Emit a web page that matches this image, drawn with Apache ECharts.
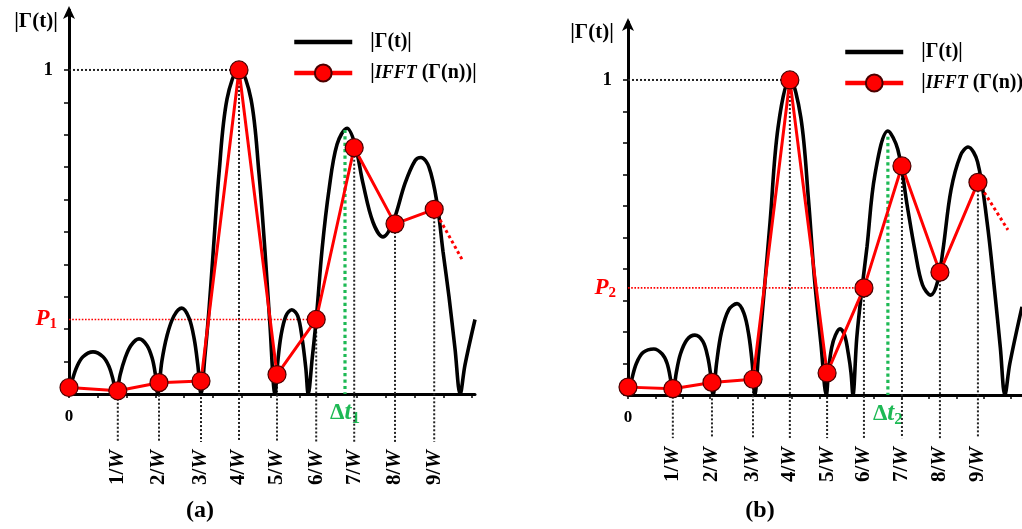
<!DOCTYPE html>
<html><head><meta charset="utf-8">
<script src="https://cdn.jsdelivr.net/npm/echarts@6/dist/echarts.min.js"></script>
<style>html,body{margin:0;padding:0;background:#fff}#c{width:1022px;height:529px}</style>
</head><body><div id="c"></div>
<script>
// ---------- data ----------
const wLabels = ['1/W','2/W','3/W','4/W','5/W','6/W','7/W','8/W','9/W'];
const yTickVals = [0,0.1,0.2,0.3,0.4,0.5,0.6,0.7,0.8,0.9,1];
const xMinorTicks = [0,0.72,1.44,2.16,2.88,3.6,4.32,5.04,5.76,6.48,7.2,7.92,8.64,9.36,10.08];

// panel (a)
const aTickX = [1.22,2.25,3.3,4.25,5.2,6.18,7.13,8.15,9.13];
const aIfft  = [0.02,0.01,0.035,0.04,1.0,0.06,0.23,0.76,0.525,0.57];
const aTail  = [[9.13,0.57],[9.85,0.41]];
const aDelta = [6.9,0.815];
const aCurveT = [0,0.1,0.2,0.35,0.6,0.85,1.0,1.1,1.18,
  1.28,1.4,1.55,1.75,1.95,2.08,2.16,2.22,
  2.32,2.45,2.62,2.82,3.0,3.13,3.22,3.3,
  3.4,3.5,3.6,3.75,3.95,4.25,4.55,4.75,4.9,5.02,5.15,
  5.22,5.3,5.42,5.57,5.72,5.83,5.92,5.98,
  6.08,6.18,6.33,6.5,6.7,6.95,7.15,7.35,7.6,7.85,8.1,8.4,8.65,8.8,9.0,9.2,9.35,9.5,9.65,9.78,9.9,10.15];
const aCurveV = [0,0.05,0.085,0.115,0.13,0.115,0.085,0.045,0,
  0.06,0.11,0.15,0.17,0.15,0.11,0.06,0,
  0.1,0.18,0.24,0.265,0.235,0.17,0.09,0,
  0.12,0.26,0.43,0.68,0.91,1.005,0.91,0.68,0.44,0.22,0,
  0.1,0.18,0.24,0.26,0.24,0.17,0.08,0,
  0.11,0.23,0.45,0.63,0.77,0.82,0.77,0.65,0.53,0.485,0.53,0.65,0.72,0.73,0.7,0.59,0.44,0.3,0.14,0,0.09,0.23];

// panel (b)
const bTickX = [1.18,2.21,3.29,4.26,5.24,6.21,7.21,8.21,9.21];
const bIfft  = [0.025,0.02,0.04,0.05,1.0,0.07,0.34,0.727,0.39,0.675];
const bTail  = [[9.21,0.675],[10.0,0.524]];
const bDelta = [6.84,0.82];
const bCurveT = [0,0.1,0.22,0.4,0.68,0.9,1.03,1.12,1.18,
  1.27,1.38,1.55,1.76,1.97,2.1,2.18,2.24,
  2.33,2.46,2.65,2.87,3.05,3.18,3.27,3.34,
  3.43,3.52,3.62,3.74,3.95,4.26,4.55,4.75,4.9,5.08,5.22,
  5.28,5.36,5.46,5.58,5.7,5.8,5.87,5.92,
  6.02,6.15,6.29,6.5,6.84,7.1,7.35,7.55,7.75,7.97,8.15,8.29,8.5,8.75,8.95,9.2,9.45,9.65,9.8,9.92,10.05,10.37];
const bCurveV = [0,0.05,0.1,0.135,0.146,0.13,0.1,0.05,0,
  0.07,0.13,0.175,0.19,0.17,0.12,0.06,0,
  0.1,0.2,0.27,0.29,0.26,0.19,0.1,0,
  0.12,0.24,0.38,0.55,0.85,1.005,0.88,0.62,0.38,0.16,0,
  0.08,0.15,0.19,0.21,0.19,0.13,0.07,0,
  0.18,0.33,0.47,0.7,0.838,0.78,0.6,0.46,0.35,0.317,0.36,0.46,0.65,0.76,0.787,0.74,0.55,0.33,0.15,0,0.1,0.28];

// ---------- layout / style ----------
const SERIF = "'Liberation Serif','DejaVu Serif',serif";
const RED = '#ff0000', GREEN = '#1db954';
const panels = [
  {tickX:aTickX, ifft:aIfft, tail:aTail, delta:aDelta, ct:aCurveT, cv:aCurveV, sub:'1',
   grid:{left:69, top:10, width:406, height:384}, xMax:10.15, yMax:1.185, vBottom:-0.148, wMargin:56,
   legend:{left:287, top:27}, yName:[36,22], cap:['(a)',200,511]},
  {tickX:bTickX, ifft:bIfft, tail:bTail, delta:bDelta, ct:bCurveT, cv:bCurveV, sub:'2',
   grid:{left:628, top:22, width:394, height:373}, xMax:10.37, yMax:1.184, vBottom:-0.137, wMargin:52,
   legend:{left:838, top:37}, yName:[592,33], cap:['(b)',760,511]}
];

const grids = [], xAxes = [], yAxes = [], series = [], legends = [], graphics = [];

panels.forEach((p, gi) => {
  grids.push(Object.assign({containLabel:false}, p.grid));
  const ifftPts = p.ifft.map((v, i) => [i === 0 ? 0 : p.tickX[i-1], v]);
  const pVal = p.ifft[6];
  xAxes.push({
    type:'value', gridIndex:gi, position:'bottom', min:0, max:p.xMax,
    axisLine:{show:true, onZero:false, lineStyle:{color:'#000', width:3}},
    axisTick:{show:true, inside:false, length:4, lineStyle:{color:'#000', width:1.5}, customValues:xMinorTicks},
    splitLine:{show:false},
    axisLabel:{show:true, rotate:90, margin:p.wMargin, customValues:p.tickX, hideOverlap:false,
      formatter:(v) => { const s = wLabels[p.tickX.indexOf(v)] || ''; return '{n|' + s.split('/')[0] + '/}{w|W}'; },
      rich:{n:{fontFamily:SERIF, fontWeight:'bold', fontSize:21, color:'#000'},
            w:{fontFamily:SERIF, fontWeight:'bold', fontStyle:'italic', fontSize:21, color:'#000'}}}
  });
  xAxes.push({
    type:'value', gridIndex:gi, position:'bottom', min:0, max:p.xMax,
    axisLine:{show:false}, axisTick:{show:false}, splitLine:{show:false},
    axisLabel:{show:true, margin:5, customValues:[0, p.delta[0]], hideOverlap:false,
      formatter:(v) => v === 0 ? '{z|0}' : '{d|Δ}{t|t}{s|' + p.sub + '}',
      rich:{z:{fontFamily:SERIF, fontWeight:'bold', fontSize:17, color:'#000', padding:[9,0,0,0]},
            d:{fontFamily:SERIF, fontWeight:'bold', fontSize:23, color:GREEN},
            t:{fontFamily:SERIF, fontWeight:'bold', fontStyle:'italic', fontSize:25, color:GREEN},
            s:{fontFamily:SERIF, fontWeight:'bold', fontSize:17, color:GREEN, verticalAlign:'bottom', padding:[11,0,0,0]}}}
  });
  yAxes.push({
    type:'value', gridIndex:gi, min:0, max:p.yMax,
    axisLine:{show:true, onZero:false, lineStyle:{color:'#000', width:3}, symbol:['none','arrow'], symbolSize:[9,13], symbolOffset:[0,4]},
    axisTick:{show:true, length:5, lineStyle:{color:'#000', width:1.5}, customValues:yTickVals},
    splitLine:{show:false},
    axisLabel:{show:true, margin:12, customValues:[pVal, 1], hideOverlap:false,
      formatter:(v) => v === 1 ? '{o|1}' : '{p|P}{s|' + p.sub + '}',
      rich:{o:{fontFamily:SERIF, fontWeight:'bold', fontSize:19, color:'#000', padding:[0,4,0,0]},
            p:{fontFamily:SERIF, fontWeight:'bold', fontStyle:'italic', fontSize:23, color:RED},
            s:{fontFamily:SERIF, fontWeight:'bold', fontSize:15, color:RED, verticalAlign:'bottom', padding:[10,0,0,0]}}}
  });
  const xi = gi * 2, yi = gi;
  const seg = (pts, color, width, z, type) => ({
    type:'line', xAxisIndex:xi, yAxisIndex:yi, data:pts, symbol:'none', clip:false, silent:true,
    animation:false, z:z, lineStyle:{color:color, width:width, type:type || 'dotted'}
  });
  p.tickX.forEach((x, i) => series.push(seg([[x, p.ifft[i+1]], [x, p.vBottom]], '#222', 2, 1)));
  series.push(seg([[0, 1], [p.tickX[3], 1]], '#222', 2, 1));
  series.push(seg([[0, pVal], [p.tickX[5], pVal]], RED, 1.6, 1));
  series.push(seg([[p.delta[0], p.delta[1]], [p.delta[0], 0]], GREEN, 3.2, 4));
  series.push(seg(p.tail, RED, 3, 4));
  series.push({
    name:'|Γ(t)|', type:'line', xAxisIndex:xi, yAxisIndex:yi, smooth:0.35, symbol:'none', animation:false, z:2,
    data:p.ct.map((t, i) => [t, p.cv[i]]), lineStyle:{color:'#000', width:3.6}, itemStyle:{color:'#000'}
  });
  series.push({
    name:'|IFFT (Γ(n))|', type:'line', xAxisIndex:xi, yAxisIndex:yi, symbol:'circle', symbolSize:18, animation:false, z:5,
    data:ifftPts, lineStyle:{color:RED, width:3}, itemStyle:{color:RED, borderColor:'#4a0000', borderWidth:1.2}
  });
  legends.push({
    left:p.legend.left, top:p.legend.top, orient:'vertical', itemWidth:58, itemHeight:21, itemGap:11,
    data:[{name:'|Γ(t)|', itemStyle:{opacity:0, color:'rgba(0,0,0,0)', borderWidth:0}}, '|IFFT (Γ(n))|'],
    selectedMode:false,
    lineStyle:{width:4.5},
    formatter:(n) => n === '|Γ(t)|' ? '{g|}{t|' + n + '}' : '{g|}{t||}{i|IFFT}{t| (Γ(n))|}',
    textStyle:{rich:{g:{width:13},
      t:{fontFamily:SERIF, fontWeight:'bold', fontSize:20, color:'#000'},
      i:{fontFamily:SERIF, fontWeight:'bold', fontStyle:'italic', fontSize:18, color:'#000'}}}
  });
  graphics.push({type:'text', x:p.yName[0], y:p.yName[1],
    style:{text:'|Γ(t)|', fontFamily:SERIF, fontWeight:'bold', fontSize:21, fill:'#000', align:'center', verticalAlign:'middle'}});
  graphics.push({type:'text', x:p.cap[1], y:p.cap[2],
    style:{text:p.cap[0], fontFamily:SERIF, fontWeight:'bold', fontSize:24, fill:'#000', align:'center', verticalAlign:'middle'}});
});

const chart = echarts.init(document.getElementById('c'), null, {renderer:'canvas'});
chart.setOption({
  backgroundColor:'#fff', animation:false,
  grid:grids, xAxis:xAxes, yAxis:yAxes, series:series, legend:legends, graphic:graphics
});
</script></body></html>
